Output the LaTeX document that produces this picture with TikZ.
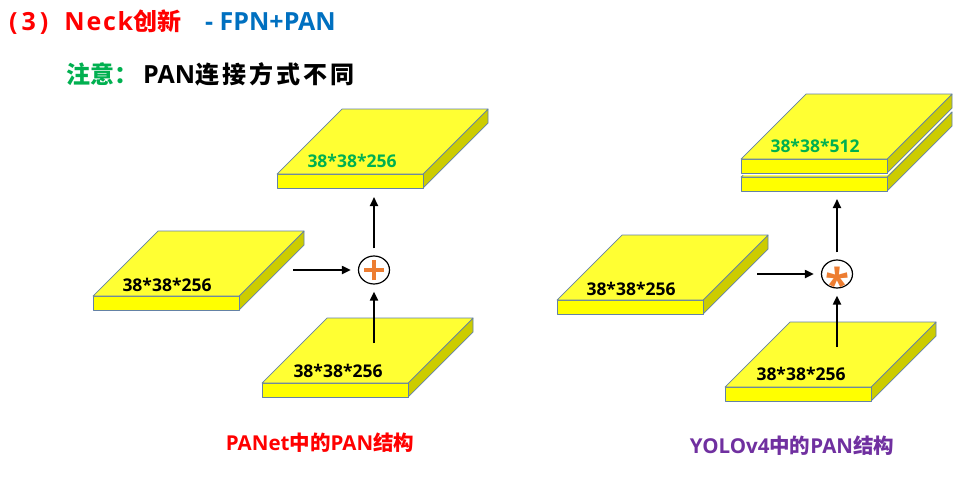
\documentclass[tikz,border=0pt]{standalone}
\usepackage{fontspec}
\setmainfont{Noto Sans CJK SC}
\newfontfamily\lat{Open Sans}
\newfontfamily\latsp{Open Sans}[LetterSpace=7]
\newfontfamily\cjksp{Noto Sans CJK SC}[LetterSpace=13]
\usetikzlibrary{arrows.meta,shapes.geometric}
\definecolor{topcol}{RGB}{255,255,51}
\definecolor{frontcol}{RGB}{255,255,0}
\definecolor{sidecol}{RGB}{204,204,0}
\definecolor{edgecol}{RGB}{100,130,165}
\definecolor{tred}{RGB}{255,0,0}
\definecolor{tblue}{RGB}{0,112,192}
\definecolor{tgreen}{RGB}{0,176,80}
\definecolor{tpurple}{RGB}{112,48,160}
\definecolor{oporange}{RGB}{237,125,49}
\begin{document}
\begin{tikzpicture}[x=1pt,y=-1pt,
  edge/.style={draw=edgecol,line width=0.7pt,line join=round},
  arr/.style={line width=1.9pt,-{Triangle[length=9pt,width=8pt]}},
  dimtext/.style={font=\fontsize{17.5}{17.5}\selectfont\lat\bfseries,inner sep=0},
  titletext/.style={font=\fontsize{24}{24}\selectfont\bfseries,inner sep=0,anchor=base west},
  captext/.style={font=\fontsize{20.5}{20.5}\selectfont\bfseries,inner sep=0},
  opnode/.style={draw,line width=1.2pt,ellipse,minimum width=31pt,minimum height=28pt,inner sep=0},
  slab/.pic={
    \path[edge,fill=sidecol] (146,0)--(211,-65)--(211,-51)--(146,14)--cycle;
    \path[edge,fill=frontcol] (0,0) rectangle (146,14);
    \path[edge,fill=topcol] (0,0)--(65,-65)--(211,-65)--(146,0)--cycle;
  },
  slabgap/.pic={
    \path[draw=white,line width=4pt,line join=round] (0,0)--(65,-65)--(211,-65)--(211,-51)--(146,14)--(0,14)--cycle;
    \path[edge,fill=sidecol] (146,0)--(211,-65)--(211,-51)--(146,14)--cycle;
    \path[edge,fill=frontcol] (0,0) rectangle (146,14);
    \path[edge,fill=topcol] (0,0)--(65,-65)--(211,-65)--(146,0)--cycle;
  }]
\useasboundingbox[fill=white] (0,0) rectangle (956,477);

% titles
\node[titletext,text=tred] (t1) at (9,30) {{\fontsize{25}{25}\selectfont\lat (\kern4pt 3\kern4pt)\kern16pt}{\fontsize{25}{25}\selectfont\latsp Neck}创新};
\node[titletext,text=tblue] (t2) at (205,30) {{\fontsize{25}{25}\selectfont\lat - FPN+PAN}};
\node[titletext,text=tgreen] (n1) at (66,83.5) {注意：};
\node[titletext,text=black] (n2) at (143,83.5) {{\fontsize{25}{25}\selectfont\lat PAN}{\cjksp 连接方式不同}};

% ---------- left: PANet ----------
\pic at (277,174) {slab};
\node[dimtext,text=tgreen] (lt) at (352,161) {38*38*256};
\pic at (93,296) {slab};
\node[dimtext] (lm) at (167,285) {38*38*256};
\pic at (262,383) {slab};
\node[dimtext] (lb) at (338,371) {38*38*256};

\node[opnode,path picture={
  \draw[oporange,line width=3.8pt] (path picture bounding box.center) ++(-10pt,0) -- ++(20pt,0);
  \draw[oporange,line width=3.8pt] (path picture bounding box.center) ++(0,-10pt) -- ++(0,20pt);}] (lop) at (374,270) {};

\coordinate (la) at (293,270);
\coordinate (ltin) at (374,197);
\coordinate (lbo) at (374,343);
\draw[arr,shorten >=7pt] (la) -- (lop);
\draw[arr,shorten <=7pt] (lop) -- (ltin);
\draw[arr,shorten >=7pt] (lbo) -- (lop);

\node[captext,text=tred] (capl) at (320,443) {{\lat PANet}中的{\lat PAN}结构};

% ---------- right: YOLOv4 ----------
\pic at (741,177) {slab};
\pic at (741,159) {slabgap};
\node[dimtext,text=tgreen] (rt) at (815,146) {38*38*512};
\pic at (557,300) {slab};
\node[dimtext] (rm) at (631,289) {38*38*256};
\pic at (725,387) {slab};
\node[dimtext] (rb) at (801,374) {38*38*256};

\node[opnode] (rop) at (837,274) {};
\node[text=oporange,font=\fontsize{44}{44}\selectfont\lat\bfseries,inner sep=0] (rstar) at ([yshift=-9.5pt]rop.center) {*};

\coordinate (ra) at (757,274);
\coordinate (rtin) at (837,199);
\coordinate (rbo) at (837,347);
\draw[arr,shorten >=7pt] (ra) -- (rop);
\draw[arr,shorten <=7pt] (rop) -- (rtin);
\draw[arr,shorten >=7pt] (rbo) -- (rop);

\node[captext,text=tpurple] (capr) at (792,446) {{\lat YOLOv4}中的{\lat PAN}结构};
\end{tikzpicture}
\end{document}
